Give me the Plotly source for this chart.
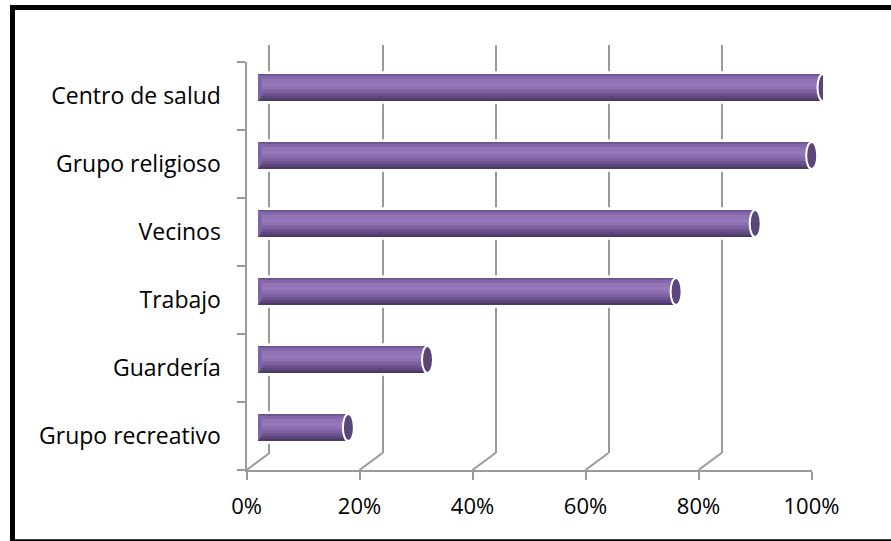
import plotly.graph_objects as go

# ---- data ----
categories = ["Grupo recreativo", "Guardería", "Trabajo", "Vecinos", "Grupo religioso", "Centro de salud"]
values = [16, 30, 74, 88, 98, 100]
tick_values = [0, 20, 40, 60, 80, 100]
tick_labels = ["0%", "20%", "40%", "60%", "80%", "100%"]

# ---- style ----
W, H = 891, 541
GRID = "#9a9a9a"
FONT = "Open Sans"
# front frame (pixels)
FX0, FX1 = 246.5, 811.5
FY_TOP, FY_BOT = 62, 470
DX, DY = 23, 17  # depth offset

def px_dom_x(a, b):
    return [a / W, b / W]

def px_dom_y(top, bot):
    return [1 - bot / H, 1 - top / H]

fig = go.Figure()

# band gradient for cylinders (top -> bottom): each band from its start down to the bottom edge
bands = [
    (0.00, "#6d5590"),
    (0.07, "#8467a8"),
    (0.18, "#9073b5"),
    (0.32, "#9679bb"),
    (0.46, "#8c6fb1"),
    (0.58, "#7e62a2"),
    (0.70, "#6f5492"),
    (0.80, "#604880"),
    (0.90, "#4c3a67"),
]
BW = 0.40

# halo (white) behind bars to interrupt grid lines
fig.add_trace(go.Bar(
    x=values, y=categories, orientation="h", xaxis="x3", yaxis="y3",
    width=BW + 0.08, marker=dict(color="white", line=dict(width=0)),
    hoverinfo="skip", showlegend=False,
))
for t0, col in bands:
    fig.add_trace(go.Bar(
        x=values, y=categories, orientation="h", xaxis="x3", yaxis="y3",
        width=(1 - t0) * BW, offset=-BW / 2,
        marker=dict(color=col, line=dict(width=0)),
        hoverinfo="skip", showlegend=False,
    ))

# dummy traces to activate front and back axes
fig.add_trace(go.Scatter(x=[None], y=[None], xaxis="x", yaxis="y", showlegend=False, hoverinfo="skip"))
fig.add_trace(go.Scatter(x=[None], y=[None], xaxis="x2", yaxis="y2", showlegend=False, hoverinfo="skip"))

shapes = []
# end caps and left rounded ends
for cat_i, v in enumerate(values):
    shapes.append(dict(
        type="circle", xref="x3", yref="y3", xsizemode="pixel", xanchor=v,
        x0=-5.5, x1=5.5, y0=cat_i - BW / 2, y1=cat_i + BW / 2,
        fillcolor="#5b4679", line=dict(color="white", width=2), layer="above",
    ))
    shapes.append(dict(
        type="circle", xref="x3", yref="y3", xsizemode="pixel", xanchor=0,
        x0=-4, x1=4, y0=cat_i - BW / 2 + 0.01, y1=cat_i + BW / 2 - 0.01,
        fillcolor="#8264a6", line=dict(width=0), layer="above",
    ))

# perspective diagonals at floor
for tv in tick_values:
    shapes.append(dict(
        type="line", xref="x", yref="y", xsizemode="pixel", ysizemode="pixel",
        xanchor=tv, yanchor=-0.5, x0=0, x1=DX, y0=0, y1=DY,
        line=dict(color=GRID, width=2),
    ))
# top-left diagonal
shapes.append(dict(
    type="line", xref="x", yref="y", xsizemode="pixel", ysizemode="pixel",
    xanchor=0, yanchor=len(categories) - 0.5, x0=0, x1=DX, y0=0, y1=DY,
    line=dict(color=GRID, width=2),
))
# outer border
shapes.append(dict(
    type="rect", xref="paper", yref="paper",
    x0=12.5 / W, x1=1.02, y0=1 - 541.8 / H, y1=1 - 7.5 / H,
    line=dict(color="black", width=5), fillcolor="rgba(0,0,0,0)",
))

xtickfont = dict(family=FONT, size=22, color="black")
ytickfont = dict(family=FONT, size=23, color="black")

fig.update_layout(
    template="none",
    width=W, height=H, autosize=False,
    margin=dict(l=0, r=0, t=0, b=0, pad=0),
    paper_bgcolor="white", plot_bgcolor="rgba(0,0,0,0)",
    barmode="overlay", showlegend=False,
    shapes=shapes,
    # front frame
    xaxis=dict(
        domain=px_dom_x(FX0, FX1), range=[0, 100], anchor="y", automargin=False,
        tickvals=tick_values, ticktext=tick_labels, tickfont=xtickfont,
        showline=True, linecolor=GRID, linewidth=2,
        ticks="outside", ticklen=8, tickwidth=2, tickcolor=GRID,
        showgrid=False, zeroline=False, ticklabelstandoff=8,
    ),
    yaxis=dict(
        domain=px_dom_y(FY_TOP, FY_BOT), range=[-0.5, len(categories) - 0.5], anchor="x",
        automargin=False,
        type="category", categoryorder="array", categoryarray=categories,
        tickfont=ytickfont, showline=True, linecolor=GRID, linewidth=2,
        ticks="outside", ticklen=8, tickwidth=2, tickcolor=GRID, tickson="boundaries",
        showgrid=False, zeroline=False, ticklabelstandoff=19,
    ),
    # back wall
    xaxis2=dict(
        domain=px_dom_x(FX0 + DX, FX1 + DX), range=[0, 100], anchor="y2", automargin=False,
        tickvals=tick_values, showticklabels=False, ticks="",
        showgrid=True, gridcolor=GRID, gridwidth=2, zeroline=False, showline=False,
    ),
    yaxis2=dict(
        domain=px_dom_y(FY_TOP - DY, FY_BOT - DY), range=[0, 1], anchor="x2", automargin=False,
        showticklabels=False, ticks="", showgrid=False, zeroline=False,
        showline=True, linecolor=GRID, linewidth=2,
    ),
    # bars at mid depth
    xaxis3=dict(
        domain=px_dom_x(FX0 + DX / 2, FX1 + DX / 2), range=[0, 100], anchor="y3",
        visible=False, automargin=False,
    ),
    yaxis3=dict(
        domain=px_dom_y(FY_TOP - DY / 2, FY_BOT - DY / 2), range=[-0.5, len(categories) - 0.5],
        anchor="x3", type="category", categoryorder="array", categoryarray=categories,
        visible=False, automargin=False,
    ),
)

fig.write_html("out.html")
